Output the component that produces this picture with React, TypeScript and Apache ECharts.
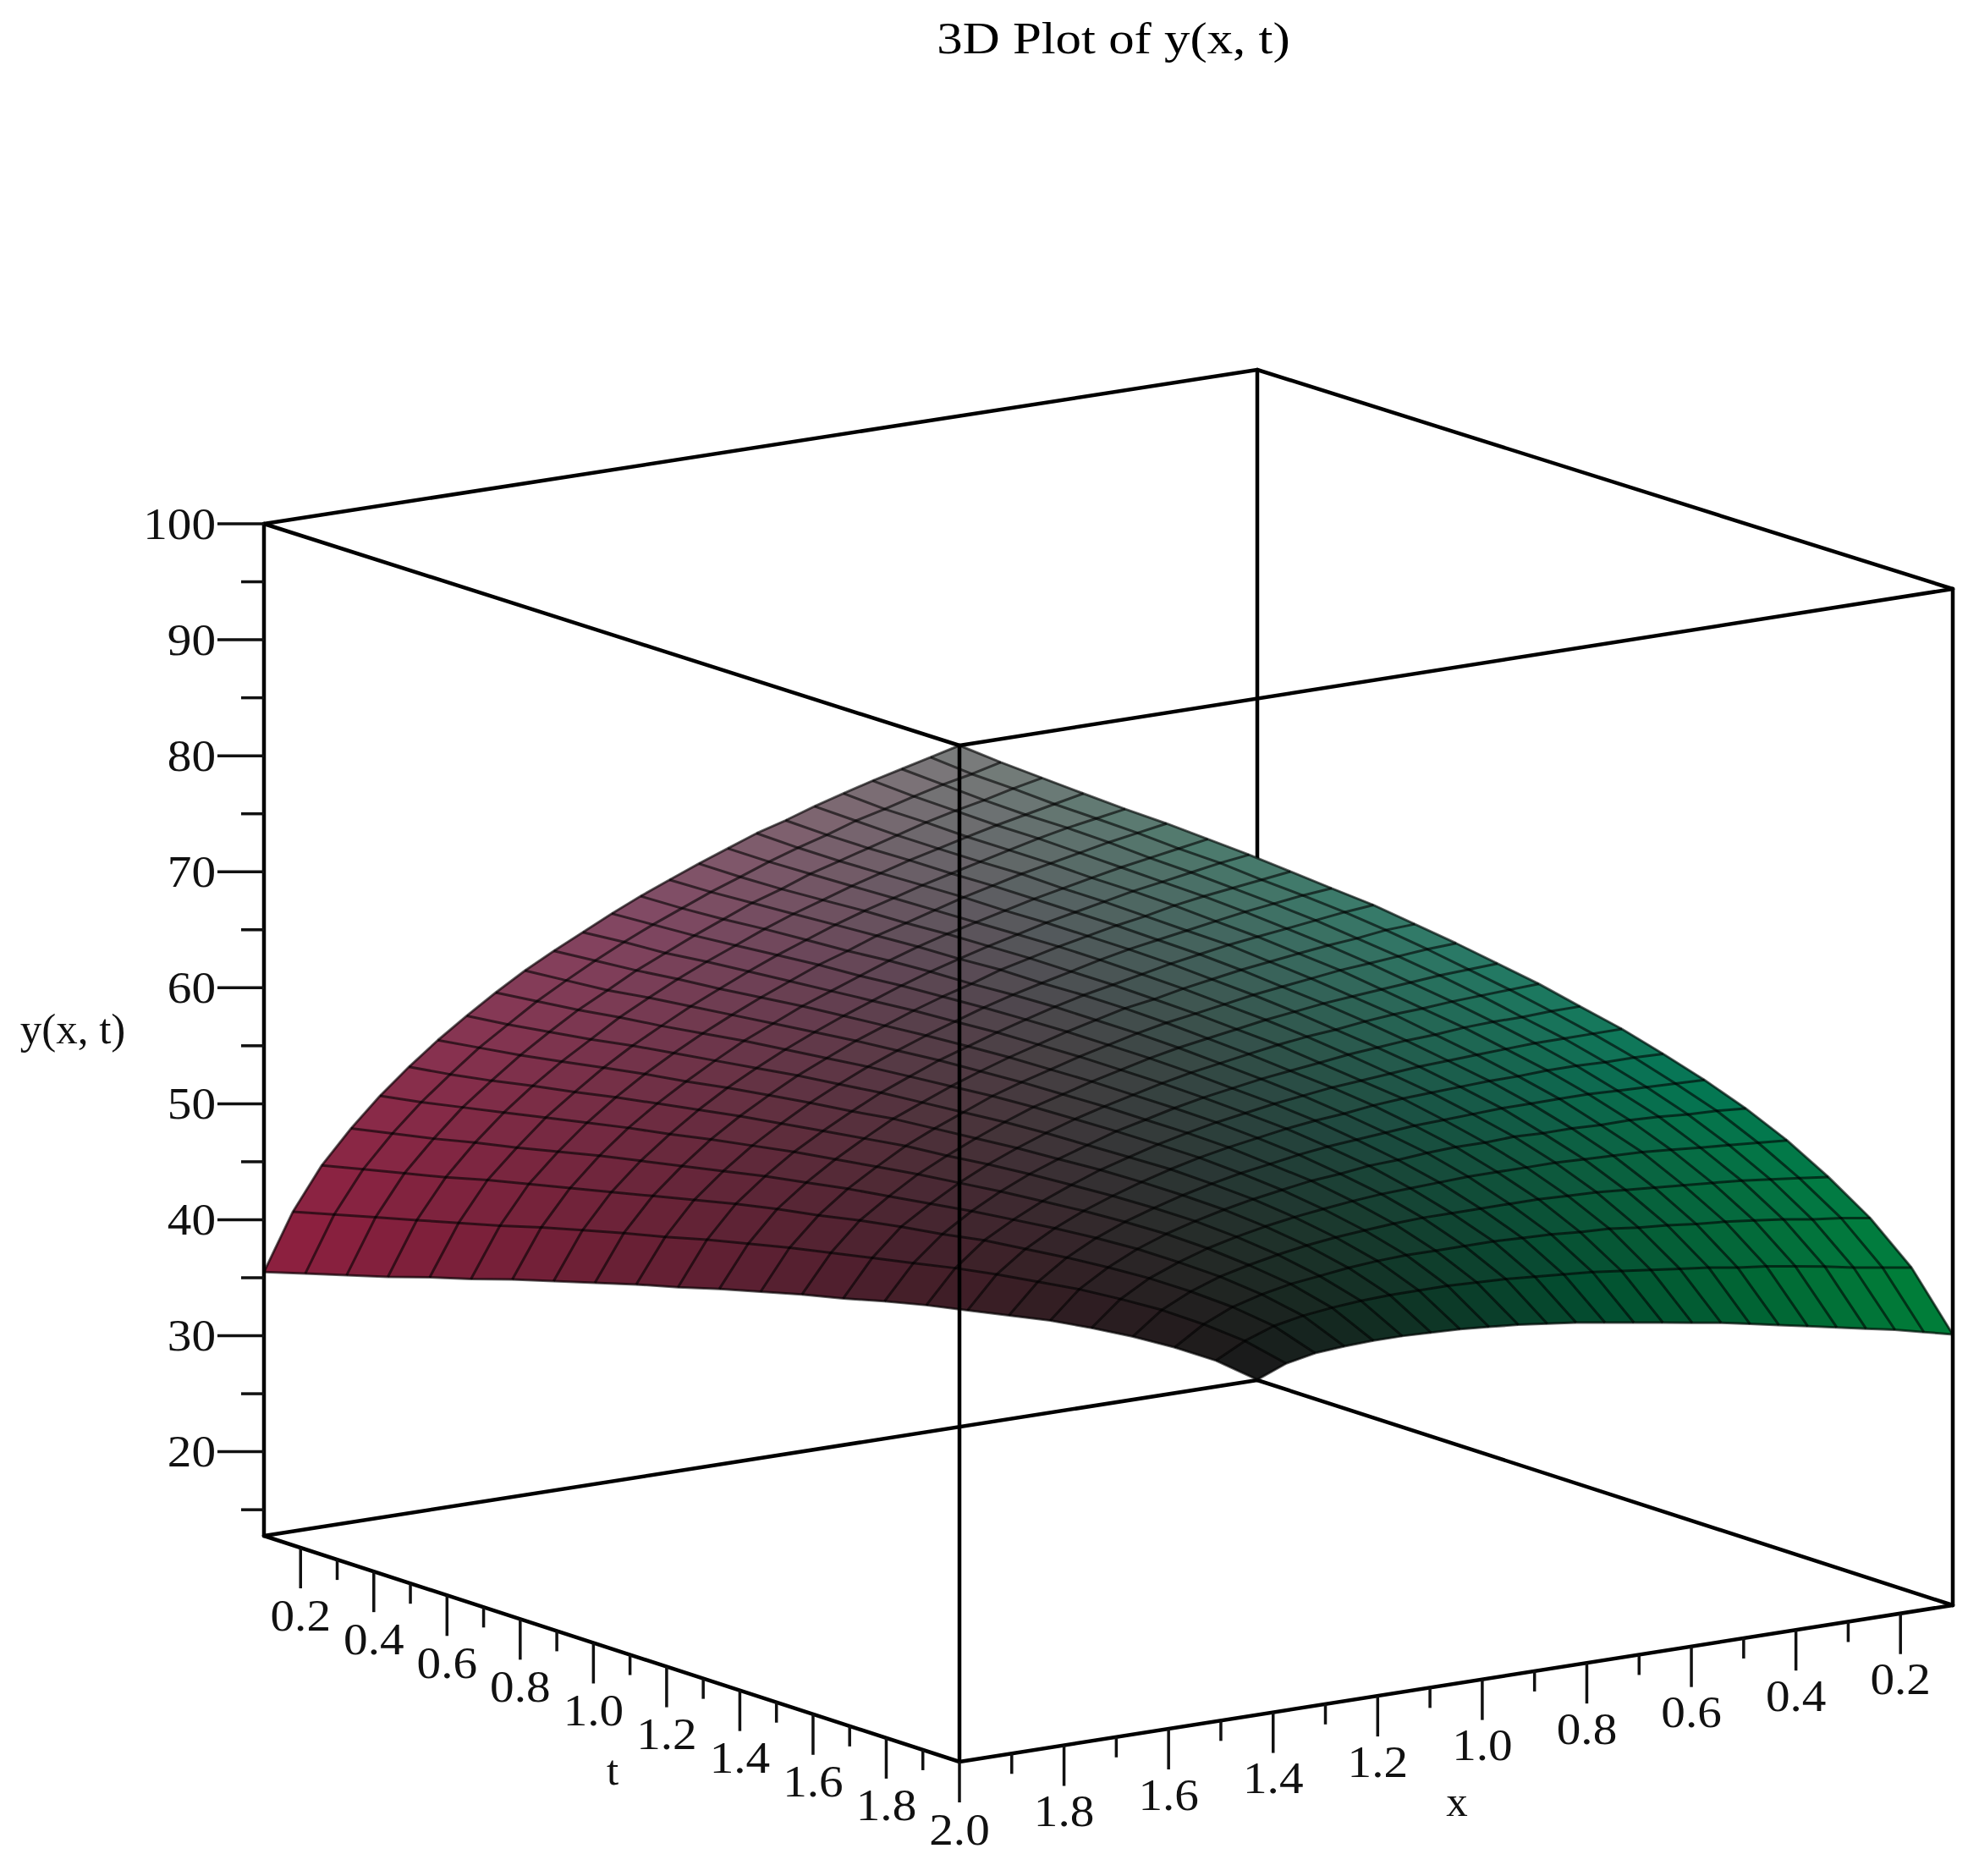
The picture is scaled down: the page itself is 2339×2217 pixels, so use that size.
import React, { useEffect, useRef } from "react";
import * as echarts from "echarts";

const chartTitle = "3D Plot of y(x, t)";
const xAxisName = "x";
const tAxisName = "t";
const zAxisName = "y(x, t)";

const xMin = 0.1, xMax = 2, tMin = 0.1, tMax = 2, zMin = 12.75, zMax = 100;

const yMajorTicks = [20, 30, 40, 50, 60, 70, 80, 90, 100];
const yMinorTicks = [15, 25, 35, 45, 55, 65, 75, 85, 95];
const planeMajorTicks = [0.2, 0.4, 0.6, 0.8, 1.0, 1.2, 1.4, 1.6, 1.8, 2.0];
const planeMinorTicks = [0.3, 0.5, 0.7, 0.9, 1.1, 1.3, 1.5, 1.7, 1.9];

// grid abscissae of the surface (x along a row, t along a column)
const xValues = [0.1, 0.179, 0.258, 0.338, 0.417, 0.496, 0.575, 0.654, 0.733, 0.813, 0.892, 0.971, 1.05, 1.129, 1.208, 1.288, 1.367, 1.446, 1.525, 1.604, 1.683, 1.763, 1.842, 1.921, 2.0];
const tValues = [0.1, 0.179, 0.258, 0.338, 0.417, 0.496, 0.575, 0.654, 0.733, 0.813, 0.892, 0.971, 1.05, 1.129, 1.208, 1.288, 1.367, 1.446, 1.525, 1.604, 1.683, 1.763, 1.842, 1.921, 2.0];

// y(x, t): one row per t, one column per x
const surfaceRows = [
  [12.8,15.0,16.7,18.2,19.5,20.7,21.7,22.7,23.7,24.6,25.4,26.3,27.1,27.9,28.6,29.4,30.1,30.8,31.5,32.1,32.8,33.4,34.1,34.8,35.5],
  [15.0,17.5,19.5,21.3,22.8,24.2,25.4,26.6,27.7,28.7,29.7,30.7,31.7,32.6,33.5,34.3,35.2,36.0,36.8,37.5,38.3,39.1,39.9,40.7,41.5],
  [16.7,19.6,21.8,23.7,25.4,26.9,28.3,29.6,30.9,32.0,33.2,34.3,35.3,36.4,37.4,38.3,39.2,40.1,41.0,41.9,42.8,43.6,44.5,45.4,46.3],
  [18.1,21.3,23.7,25.8,27.6,29.3,30.8,32.2,33.5,34.8,36.0,37.2,38.4,39.5,40.6,41.6,42.6,43.6,44.6,45.5,46.4,47.4,48.3,49.3,50.3],
  [19.4,22.8,25.4,27.6,29.6,31.4,33.0,34.5,35.9,37.3,38.6,39.9,41.1,42.3,43.5,44.6,45.7,46.7,47.8,48.8,49.8,50.8,51.8,52.8,53.9],
  [20.6,24.2,26.9,29.3,31.4,33.3,35.0,36.6,38.1,39.6,41.0,42.3,43.7,44.9,46.1,47.3,48.5,49.6,50.7,51.8,52.8,53.9,54.9,56.0,57.2],
  [21.7,25.5,28.4,30.9,33.1,35.1,36.9,38.6,40.2,41.7,43.2,44.6,46.0,47.4,48.6,49.9,51.1,52.3,53.4,54.6,55.7,56.8,57.9,59.1,60.3],
  [22.8,26.7,29.8,32.4,34.7,36.8,38.7,40.5,42.1,43.7,45.3,46.8,48.2,49.6,51.0,52.3,53.6,54.8,56.0,57.2,58.4,59.5,60.7,61.9,63.2],
  [23.8,27.9,31.1,33.8,36.2,38.4,40.4,42.3,44.0,45.7,47.3,48.9,50.4,51.8,53.2,54.6,55.9,57.2,58.5,59.7,60.9,62.2,63.4,64.7,66.0],
  [24.8,29.0,32.3,35.2,37.7,40.0,42.0,44.0,45.8,47.5,49.2,50.8,52.4,53.9,55.4,56.8,58.2,59.5,60.8,62.1,63.4,64.7,65.9,67.3,68.7],
  [25.7,30.1,33.5,36.5,39.1,41.4,43.6,45.6,47.5,49.3,51.0,52.7,54.3,55.9,57.4,58.9,60.3,61.7,63.1,64.4,65.7,67.1,68.4,69.8,71.2],
  [26.6,31.1,34.7,37.7,40.4,42.9,45.1,47.2,49.1,51.0,52.8,54.5,56.2,57.8,59.4,60.9,62.4,63.8,65.2,66.6,68.0,69.4,70.7,72.2,73.6],
  [27.4,32.1,35.8,38.9,41.7,44.2,46.5,48.7,50.7,52.6,54.5,56.3,58.0,59.7,61.3,62.9,64.4,65.9,67.3,68.8,70.2,71.6,73.0,74.5,76.0],
  [28.2,33.1,36.9,40.1,43.0,45.6,47.9,50.1,52.2,54.2,56.1,58.0,59.8,61.5,63.2,64.8,66.3,67.9,69.4,70.8,72.3,73.8,75.2,76.7,78.3],
  [29.0,34.0,37.9,41.3,44.2,46.9,49.3,51.6,53.7,55.7,57.7,59.6,61.5,63.3,65.0,66.6,68.3,69.8,71.4,72.9,74.4,75.9,77.4,78.9,80.5],
  [29.8,34.9,39.0,42.4,45.4,48.1,50.6,53.0,55.1,57.2,59.3,61.2,63.1,64.9,66.7,68.4,70.1,71.7,73.3,74.8,76.4,77.9,79.4,81.0,82.7],
  [30.6,35.8,39.9,43.5,46.6,49.4,51.9,54.3,56.5,58.7,60.8,62.8,64.7,66.6,68.4,70.2,71.9,73.5,75.1,76.7,78.3,79.9,81.5,83.1,84.8],
  [31.3,36.7,40.9,44.5,47.7,50.5,53.2,55.6,57.9,60.1,62.2,64.3,66.3,68.2,70.1,71.9,73.6,75.3,76.9,78.6,80.2,81.8,83.4,85.1,86.9],
  [32.0,37.5,41.8,45.5,48.8,51.7,54.4,56.9,59.2,61.5,63.7,65.8,67.8,69.8,71.7,73.5,75.3,77.0,78.7,80.4,82.0,83.7,85.3,87.0,88.8],
  [32.7,38.4,42.8,46.5,49.9,52.8,55.6,58.1,60.5,62.8,65.1,67.2,69.3,71.3,73.3,75.1,76.9,78.7,80.4,82.2,83.8,85.5,87.2,89.0,90.8],
  [33.4,39.2,43.7,47.5,50.9,54.0,56.8,59.4,61.8,64.2,66.4,68.6,70.8,72.8,74.8,76.7,78.6,80.4,82.1,83.9,85.6,87.3,89.1,90.8,92.7],
  [34.1,40.0,44.6,48.5,51.9,55.1,57.9,60.6,63.1,65.5,67.8,70.0,72.2,74.3,76.3,78.3,80.2,82.0,83.8,85.6,87.4,89.1,90.9,92.7,94.6],
  [34.8,40.7,45.4,49.4,52.9,56.1,59.0,61.7,64.3,66.7,69.1,71.4,73.6,75.7,77.8,79.8,81.7,83.6,85.4,87.3,89.1,90.8,92.6,94.5,96.4],
  [35.4,41.5,46.3,50.3,53.9,57.2,60.1,62.9,65.5,68.0,70.4,72.7,75.0,77.2,79.3,81.3,83.2,85.2,87.0,88.9,90.7,92.5,94.4,96.2,98.2],
  [36.0,42.3,47.1,51.2,54.9,58.2,61.2,64.0,66.7,69.2,71.7,74.0,76.3,78.5,80.7,82.7,84.7,86.7,88.6,90.5,92.3,94.2,96.1,98.0,100.0],
];

// Shading of the surface: control colours, rows t low/mid/high, columns x at 0, 1/4, 1/2, 3/4, 1 of the range
const shadeControl = [
  [[25, 25, 25], [55, 28, 35], [90, 30, 48], [118, 30, 55], [142, 30, 62]],
  [[0, 78, 47], [30, 72, 62], [66, 70, 70], [100, 68, 85], [132, 72, 100]],
  [[0, 128, 55], [3, 120, 85], [45, 124, 105], [78, 124, 110], [125, 125, 125]],
];

// Screen positions of the box's vertical edges: [x, yBottom, yTop]
const cornerBack = [1486, 1631, 437];   // x low,  t low
const cornerLeft = [312, 1815, 619];    // x high, t low
const cornerRight = [2308, 1897, 696];  // x low,  t high
const cornerFront = [1134, 2082, 881];  // x high, t high

function project(x: number, t: number, z: number): number[] {
  const u = (x - xMin) / (xMax - xMin);
  const v = (t - tMin) / (tMax - tMin);
  const w = (z - zMin) / (zMax - zMin);
  const mix = (k: number) =>
    (1 - u) * (1 - v) * cornerBack[k] + u * (1 - v) * cornerLeft[k] + (1 - u) * v * cornerRight[k] + u * v * cornerFront[k];
  return [mix(0), mix(1) * (1 - w) + mix(2) * w];
}

function shadeAt(u: number, v: number): string {
  const nc = shadeControl[0].length - 1, nr = shadeControl.length - 1;
  const cf = Math.min(u * nc, nc - 1e-6), rf = Math.min(v * nr, nr - 1e-6);
  const c = Math.floor(cf), r = Math.floor(rf), a = cf - c, b = rf - r;
  const out = [0, 1, 2].map((k) =>
    (1 - a) * (1 - b) * shadeControl[r][c][k] + a * (1 - b) * shadeControl[r][c + 1][k] + (1 - a) * b * shadeControl[r + 1][c][k] + a * b * shadeControl[r + 1][c + 1][k]);
  return `rgb(${out.map((n) => Math.round(n)).join(",")})`;
}

const SERIF = '"Liberation Serif", "Times New Roman", serif';
const LABEL_FONT = `52px ${SERIF}`;
const NAME_FONT = `51px ${SERIF}`;
const BOX_WIDTH = 4.5;
const TICK_WIDTH = 3.5;

const edgesBehind = [
  [xMin, tMin, zMin, xMin, tMin, zMax],
  [xMin, tMin, zMin, xMax, tMin, zMin],
  [xMin, tMin, zMin, xMin, tMax, zMin],
];
const edgesInFront = [
  [xMax, tMin, zMin, xMax, tMin, zMax],
  [xMin, tMax, zMin, xMin, tMax, zMax],
  [xMax, tMax, zMin, xMax, tMax, zMax],
  [xMax, tMin, zMin, xMax, tMax, zMin],
  [xMin, tMax, zMin, xMax, tMax, zMin],
  [xMin, tMin, zMax, xMax, tMin, zMax],
  [xMin, tMin, zMax, xMin, tMax, zMax],
  [xMax, tMin, zMax, xMax, tMax, zMax],
  [xMin, tMax, zMax, xMax, tMax, zMax],
];

function edgeSeries(name: string, edges: number[][]) {
  return {
    type: "custom",
    name,
    silent: true,
    data: edges,
    renderItem: (_p: any, api: any) => {
      const a = api.coord(project(api.value(0), api.value(1), api.value(2)));
      const b = api.coord(project(api.value(3), api.value(4), api.value(5)));
      return {
        type: "line",
        shape: { x1: a[0], y1: a[1], x2: b[0], y2: b[1] },
        style: { stroke: "#000", lineWidth: BOX_WIDTH, lineCap: "round" },
      };
    },
  };
}

function tickSeries(name: string, values: number[], major: boolean, place: (v: number) => number[], dir: number[], label: (v: number) => string, off: number[], align: string) {
  const len = major ? (dir[0] !== 0 ? 55 : 48) : dir[0] !== 0 ? 27 : 24;
  return {
    type: "custom",
    name,
    silent: true,
    data: values.map((v) => [v, 0]),
    renderItem: (_p: any, api: any) => {
      const v = api.value(0);
      const a = api.coord(place(v));
      const children: any[] = [
        { type: "line", shape: { x1: a[0], y1: a[1], x2: a[0] + dir[0] * len, y2: a[1] + dir[1] * len }, style: { stroke: "#111", lineWidth: TICK_WIDTH } },
      ];
      if (major) {
        children.push({
          type: "text",
          x: a[0] + off[0],
          y: a[1] + off[1],
          scaleX: 1.1,
          style: { text: label(v), font: LABEL_FONT, fill: "#111", align, verticalAlign: "middle" },
        });
      }
      return { type: "group", children };
    },
  };
}

export default function App() {
  const ref = useRef<HTMLDivElement>(null);
  useEffect(() => {
    const chart = echarts.init(ref.current!, undefined, { renderer: "svg" });

    const cells: number[][] = [];
    for (let i = 0; i < tValues.length - 1; i++) for (let j = 0; j < xValues.length - 1; j++) cells.push([j, i]);
    const meshLines: number[][] = [];
    for (let i = 0; i < tValues.length; i++) meshLines.push([0, i]);
    for (let j = 0; j < xValues.length; j++) meshLines.push([1, j]);

    const surfaceSeries = {
      type: "custom",
      name: "surface",
      silent: true,
      data: cells,
      renderItem: (_p: any, api: any) => {
        const j = api.value(0), i = api.value(1);
        const corner = (c: number, r: number) => api.coord(project(xValues[c], tValues[r], surfaceRows[r][c]));
        const fill = shadeAt((j + 0.5) / (xValues.length - 1), (i + 0.5) / (tValues.length - 1));
        return {
          type: "polygon",
          shape: { points: [corner(j, i), corner(j + 1, i), corner(j + 1, i + 1), corner(j, i + 1)] },
          style: { fill, stroke: fill, lineWidth: 0.8 },
        };
      },
    };
    const meshSeries = {
      type: "custom",
      name: "mesh",
      silent: true,
      data: meshLines,
      renderItem: (_p: any, api: any) => {
        const kind = api.value(0), k = api.value(1);
        const pts = kind === 0
          ? xValues.map((x, c) => api.coord(project(x, tValues[k], surfaceRows[k][c])))
          : tValues.map((t, r) => api.coord(project(xValues[k], t, surfaceRows[r][k])));
        return { type: "polyline", shape: { points: pts }, style: { fill: "none", stroke: "rgba(0,0,0,0.6)", lineWidth: 3, lineJoin: "round" } };
      },
    };

    const fmt = (v: number) => v.toFixed(1);
    const option: any = {
      animation: false,
      backgroundColor: "#fff",
      grid: { left: 0, top: 0, width: 2339, height: 2217 },
      xAxis: { type: "value", min: 0, max: 2339, show: false },
      yAxis: { type: "value", min: 0, max: 2217, inverse: true, show: false },
      series: [
        edgeSeries("box behind", edgesBehind),
        surfaceSeries,
        meshSeries,
        edgeSeries("box in front", edgesInFront),
        tickSeries("y major", yMajorTicks, true, (v) => project(xMax, tMin, v), [-1, 0], (v) => String(v), [-57, 0], "right"),
        tickSeries("y minor", yMinorTicks, false, (v) => project(xMax, tMin, v), [-1, 0], (v) => String(v), [0, 0], "right"),
        tickSeries("t major", planeMajorTicks, true, (v) => project(xMax, v, zMin), [0, 1], fmt, [0, 80], "center"),
        tickSeries("t minor", planeMinorTicks, false, (v) => project(xMax, v, zMin), [0, 1], fmt, [0, 0], "center"),
        tickSeries("x major", planeMajorTicks.slice(0, -1), true, (v) => project(v, tMax, zMin), [0, 1], fmt, [0, 78], "center"),
        tickSeries("x minor", planeMinorTicks, false, (v) => project(v, tMax, zMin), [0, 1], fmt, [0, 0], "center"),
      ],
      graphic: [
        { type: "text", x: 1316, y: 46, scaleX: 1.17, style: { text: chartTitle, font: `52px ${SERIF}`, fill: "#000", align: "center", verticalAlign: "middle" } },
        { type: "text", x: 86, y: 1216, style: { text: zAxisName, font: NAME_FONT, fill: "#111", align: "center", verticalAlign: "middle" } },
        { type: "text", x: 724, y: 2092, style: { text: tAxisName, font: NAME_FONT, fill: "#111", align: "center", verticalAlign: "middle" } },
        { type: "text", x: 1722, y: 2129, style: { text: xAxisName, font: NAME_FONT, fill: "#111", align: "center", verticalAlign: "middle" } },
      ],
    };
    chart.setOption(option);
    return () => chart.dispose();
  }, []);
  return <div ref={ref} style={{ position: "absolute", left: 0, top: 0, width: 2339, height: 2217 }} />;
}
